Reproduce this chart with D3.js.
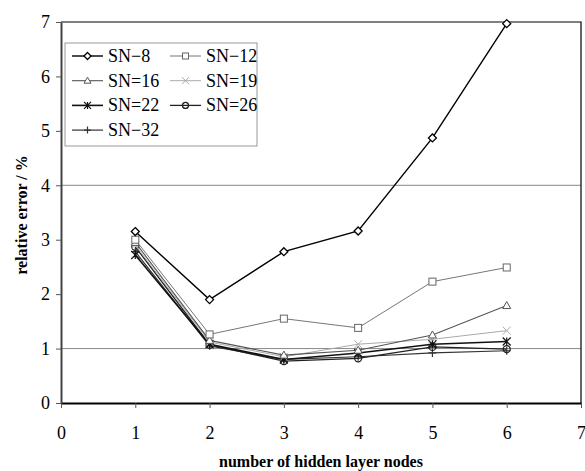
<!DOCTYPE html>
<html>
<head>
<meta charset="utf-8">
<script src="https://cdn.jsdelivr.net/npm/d3@7"></script>
<style>
  body { margin: 0; background: #fff; }
  svg text { font-family: "Liberation Serif", "Times New Roman", Times, "DejaVu Serif", serif; }
</style>
</head>
<body>
<div class="chart"></div>
<script>
// frame
let FRAME_WIDTH = 585;
let FRAME_HEIGHT = 471;
let MARGINS = {left: 61, right: 4, top: 22, bottom: 68};
let SERIF = "'Liberation Serif', 'Times New Roman', Times, 'DejaVu Serif', serif";

// data
let nodes = [1, 2, 3, 4, 5, 6];
let xTicks = [0, 1, 2, 3, 4, 5, 6, 7];
let yTicks = [0, 1, 2, 3, 4, 5, 6, 7];
let gridLines = [1, 4];

let sn8  = [3.15, 1.90, 2.78, 3.16, 4.87, 6.97];
let sn12 = [3.00, 1.26, 1.55, 1.38, 2.23, 2.49];
let sn16 = [2.95, 1.15, 0.88, 0.97, 1.25, 1.79];
let sn19 = [2.90, 1.12, 0.85, 1.08, 1.17, 1.33];
let sn22 = [2.72, 1.08, 0.80, 0.92, 1.08, 1.13];
let sn26 = [2.87, 1.07, 0.77, 0.82, 1.03, 0.99];
let sn32 = [2.78, 1.05, 0.80, 0.85, 0.92, 0.96];

let seriesNames = ["SN\u22128", "SN\u221212", "SN=16", "SN=19", "SN=22", "SN=26", "SN\u221232"];
let seriesValues = [sn8, sn12, sn16, sn19, sn22, sn26, sn32];

// styles per series
let seriesStyle = [
  {color: "#000", width: 1.4, marker: "diamond"},
  {color: "#666", width: 0.9, marker: "square"},
  {color: "#555", width: 1.1, marker: "triangle"},
  {color: "#aaa", width: 1.0, marker: "x"},
  {color: "#111", width: 1.6, marker: "star"},
  {color: "#222", width: 1.3, marker: "circle"},
  {color: "#333", width: 1.2, marker: "plus"}
];

const PLOT_WIDTH = FRAME_WIDTH - MARGINS.left - MARGINS.right;
const PLOT_HEIGHT = FRAME_HEIGHT - MARGINS.top - MARGINS.bottom;

let svg = d3.select(".chart")
  .append("svg")
  .attr("width", FRAME_WIDTH)
  .attr("height", FRAME_HEIGHT)
  .attr("font-family", SERIF);

const xScale = d3.scaleLinear().domain([0, 7]).range([MARGINS.left, MARGINS.left + PLOT_WIDTH]);
const yScale = d3.scaleLinear().domain([0, 7]).range([MARGINS.top + PLOT_HEIGHT, MARGINS.top]);

// gridlines
svg.selectAll(".grid")
  .data(gridLines)
  .enter().append("line")
  .attr("x1", xScale(0)).attr("x2", xScale(7))
  .attr("y1", d => yScale(d)).attr("y2", d => yScale(d))
  .attr("stroke", "#888").attr("stroke-width", 1);

// frame border (top + right)
svg.append("path")
  .attr("d", "M" + xScale(0) + "," + yScale(7) + "H" + xScale(7) + "V" + yScale(0))
  .attr("fill", "none").attr("stroke", "#000").attr("stroke-width", 1.2);

// axes
let xAxis = svg.append("g")
  .attr("transform", "translate(0," + yScale(0) + ")")
  .call(d3.axisBottom(xScale).tickValues(xTicks).tickFormat(d3.format("d"))
    .tickSize(5).tickPadding(18).tickSizeOuter(0));
let yAxis = svg.append("g")
  .attr("transform", "translate(" + xScale(0) + ",0)")
  .call(d3.axisLeft(yScale).tickValues(yTicks).tickFormat(d3.format("d"))
    .tickSize(5).tickPadding(6).tickSizeOuter(0));

xAxis.attr("font-family", SERIF);
yAxis.attr("font-family", SERIF);
xAxis.select(".domain").attr("stroke", "#000").attr("stroke-width", 2);
yAxis.select(".domain").attr("stroke", "#444").attr("stroke-width", 2);
svg.selectAll(".tick line").attr("stroke", "#555");
svg.selectAll(".tick text").attr("font-size", "18px").attr("fill", "#000");

// axis titles
svg.append("text")
  .attr("x", 321).attr("y", 467)
  .attr("text-anchor", "middle")
  .attr("font-size", "16px").attr("font-weight", "bold")
  .text("number of hidden layer nodes");
svg.append("text")
  .attr("transform", "translate(27,215) rotate(-90)")
  .attr("text-anchor", "middle")
  .attr("font-size", "16px").attr("font-weight", "bold")
  .text("relative error / %");

// marker drawing
function drawMarker(g, type, color, size) {
  let h = size / 2;
  if (type == "diamond") {
    g.append("path").attr("d", "M0," + (-h) + "L" + h + ",0L0," + h + "L" + (-h) + ",0Z")
      .attr("fill", "#fff").attr("stroke", color).attr("stroke-width", 1.3);
  } else if (type == "square") {
    g.append("rect").attr("x", -h + 0.5).attr("y", -h + 0.5).attr("width", size - 1).attr("height", size - 1)
      .attr("fill", "#fff").attr("stroke", color).attr("stroke-width", 1);
  } else if (type == "triangle") {
    g.append("path").attr("d", "M0," + (-h) + "L" + h + "," + (h - 1) + "L" + (-h) + "," + (h - 1) + "Z")
      .attr("fill", "#fff").attr("stroke", color).attr("stroke-width", 1);
  } else if (type == "x") {
    g.append("path").attr("d", "M" + (-h) + "," + (-h) + "L" + h + "," + h + "M" + h + "," + (-h) + "L" + (-h) + "," + h)
      .attr("fill", "none").attr("stroke", color).attr("stroke-width", 1);
  } else if (type == "star") {
    g.append("path").attr("d", "M" + (-h) + "," + (-h) + "L" + h + "," + h + "M" + h + "," + (-h) + "L" + (-h) + "," + h
        + "M0," + (-h) + "V" + h)
      .attr("fill", "none").attr("stroke", color).attr("stroke-width", 1.2);
  } else if (type == "circle") {
    g.append("circle").attr("r", h - 0.5)
      .attr("fill", "none").attr("stroke", color).attr("stroke-width", 1.3);
  } else if (type == "plus") {
    g.append("path").attr("d", "M" + (-h) + ",0H" + h + "M0," + (-h) + "V" + h)
      .attr("fill", "none").attr("stroke", color).attr("stroke-width", 1.2);
  }
}

// lines
let line = d3.line()
  .x((d, i) => xScale(nodes[i]))
  .y(d => yScale(d));

// draw in reverse so SN-8 sits on top
for (let k = seriesValues.length - 1; k >= 0; k--) {
  let st = seriesStyle[k];
  svg.append("path")
    .datum(seriesValues[k])
    .attr("d", line)
    .attr("fill", "none")
    .attr("stroke", st.color)
    .attr("stroke-width", st.width);

  seriesValues[k].forEach(function(v, i) {
    let g = svg.append("g")
      .attr("transform", "translate(" + xScale(nodes[i]) + "," + yScale(v) + ")");
    drawMarker(g, st.marker, st.color, 8);
  });
}

// legend
let legend = svg.append("g").attr("transform", "translate(65,43)");
legend.append("rect")
  .attr("x", 0).attr("y", 0).attr("width", 192).attr("height", 103)
  .attr("fill", "#fff").attr("stroke", "#999").attr("stroke-width", 1);

seriesNames.forEach(function(name, k) {
  let col = k % 2;
  let row = Math.floor(k / 2);
  let lx = 7 + col * 98;
  let ly = 13 + row * 24.7;
  let st = seriesStyle[k];
  let item = legend.append("g").attr("transform", "translate(" + lx + "," + ly + ")");
  item.append("line")
    .attr("x1", 0).attr("x2", 31).attr("y1", 0).attr("y2", 0)
    .attr("stroke", st.color).attr("stroke-width", st.width);
  drawMarker(item.append("g").attr("transform", "translate(15.5,0)"), st.marker, st.color, 7);
  item.append("text")
    .attr("x", 36).attr("y", 6)
    .attr("font-size", "18px")
    .attr("font-family", SERIF)
    .text(name);
});
</script>
</body>
</html>
